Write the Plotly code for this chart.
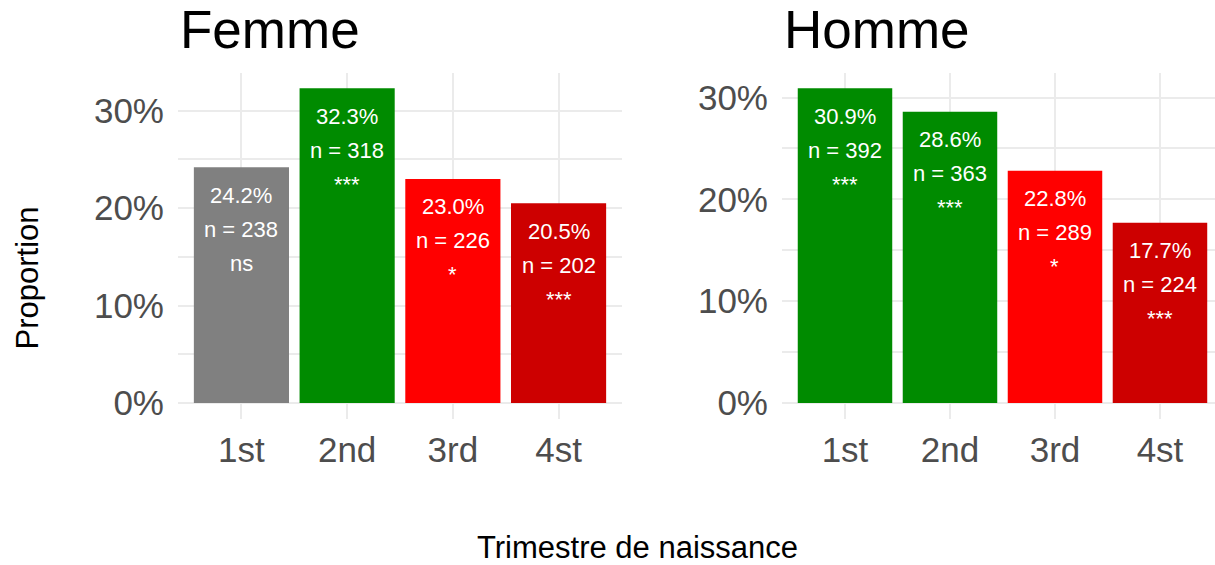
import plotly.graph_objects as go

# ---- data ----
trimestres = ["1st", "2nd", "3rd", "4st"]

femme_pct = [0.242, 0.323, 0.230, 0.205]
femme_n = [238, 318, 226, 202]
femme_sig = ["ns", "***", "*", "***"]

homme_pct = [0.309, 0.286, 0.228, 0.177]
homme_n = [392, 363, 289, 224]
homme_sig = ["***", "***", "*", "***"]

FONT = "Liberation Sans, Arial, sans-serif"


def bar_colour(p, sig):
    # grey = not significant, green = above 25 %, red / dark red = below
    if sig == "ns":
        return "#808080"
    if p > 0.25:
        return "#008B00"
    return "#FF0000" if sig == "*" else "#CD0000"


W, H = 1215, 565


def px(x):
    return x / W


def py(y):
    return 1 - y / H


# (title, values, n, significance, panel left/right px, right end of x range)
# the Homme panel runs slightly past the right edge of the picture
panels = [
    ("Femme", femme_pct, femme_n, femme_sig, (178, 622), 3.6),
    ("Homme", homme_pct, homme_n, homme_sig, (782, 1215), 3.524),
]
y_top, y_bot = 73, 421

fig = go.Figure()
annotations = []

for k, (name, pct, n, sig, (x0, x1), xr) in enumerate(panels):
    xa = "x" if k == 0 else "x2"
    ya = "y" if k == 0 else "y2"
    fig.add_trace(go.Bar(
        x=trimestres, y=pct, xaxis=xa, yaxis=ya,
        marker=dict(color=[bar_colour(p, s) for p, s in zip(pct, sig)], line=dict(width=0)),
        showlegend=False, hoverinfo="skip",
    ))
    for t, p, nn, s in zip(trimestres, pct, n, sig):
        lines = [f"{p*100:.1f}%", f"n = {nn}", s]
        for i, txt in enumerate(lines):
            annotations.append(dict(
                x=t, y=p, xref=xa, yref=ya, text=txt, showarrow=False,
                yanchor="middle", yshift=-(28 + 34 * i),
                font=dict(family=FONT, size=22, color="white"),
            ))
    annotations.append(dict(
        x=px(x0), y=py(30), xref="paper", yref="paper", text=name,
        showarrow=False, xanchor="left", yanchor="middle",
        font=dict(family=FONT, size=53, color="black"),
    ))

    top = max(pct) * 1.05
    lo = -max(pct) * 0.05
    axis_common = dict(
        showline=False, zeroline=False, gridcolor="#EBEBEB", gridwidth=2,
        tickfont=dict(family=FONT, size=35, color="#4D4D4D"),
    )
    xaxis = dict(axis_common, domain=[px(x0), px(x1)], anchor=ya,
                 range=[-0.6, xr], ticks="", ticklabelstandoff=7, type="category",
                 categoryorder="array", categoryarray=trimestres)
    yaxis = dict(axis_common, domain=[py(y_bot), py(y_top)], anchor=xa,
                 range=[lo, top], tickformat=".0%", dtick=0.1,
                 ticks="outside", ticklen=6, tickcolor="rgba(0,0,0,0)",
                 minor=dict(dtick=0.05, showgrid=True, gridcolor="#EBEBEB", gridwidth=1.5))
    if k == 0:
        fig.update_layout(xaxis=xaxis, yaxis=yaxis)
    else:
        fig.update_layout(xaxis2=xaxis, yaxis2=yaxis)

annotations.append(dict(
    x=px(28), y=py(280), xref="paper", yref="paper", text="Proportion",
    showarrow=False, textangle=-90, xanchor="center", yanchor="middle",
    font=dict(family=FONT, size=31, color="black"),
))
annotations.append(dict(
    x=px(637), y=py(550), xref="paper", yref="paper", text="Trimestre de naissance",
    showarrow=False, xanchor="center", yanchor="middle",
    font=dict(family=FONT, size=31, color="black"),
))

fig.update_layout(
    width=W, height=H, margin=dict(l=0, r=0, t=0, b=0),
    paper_bgcolor="white", plot_bgcolor="white",
    bargap=0.1, annotations=annotations,
)

# drop the default 8px page margin so the figure fills the window
fig.write_html(
    "out.html",
    config={"displayModeBar": False},
    post_script="document.body.style.margin='0';document.body.style.overflow='hidden';",
)
